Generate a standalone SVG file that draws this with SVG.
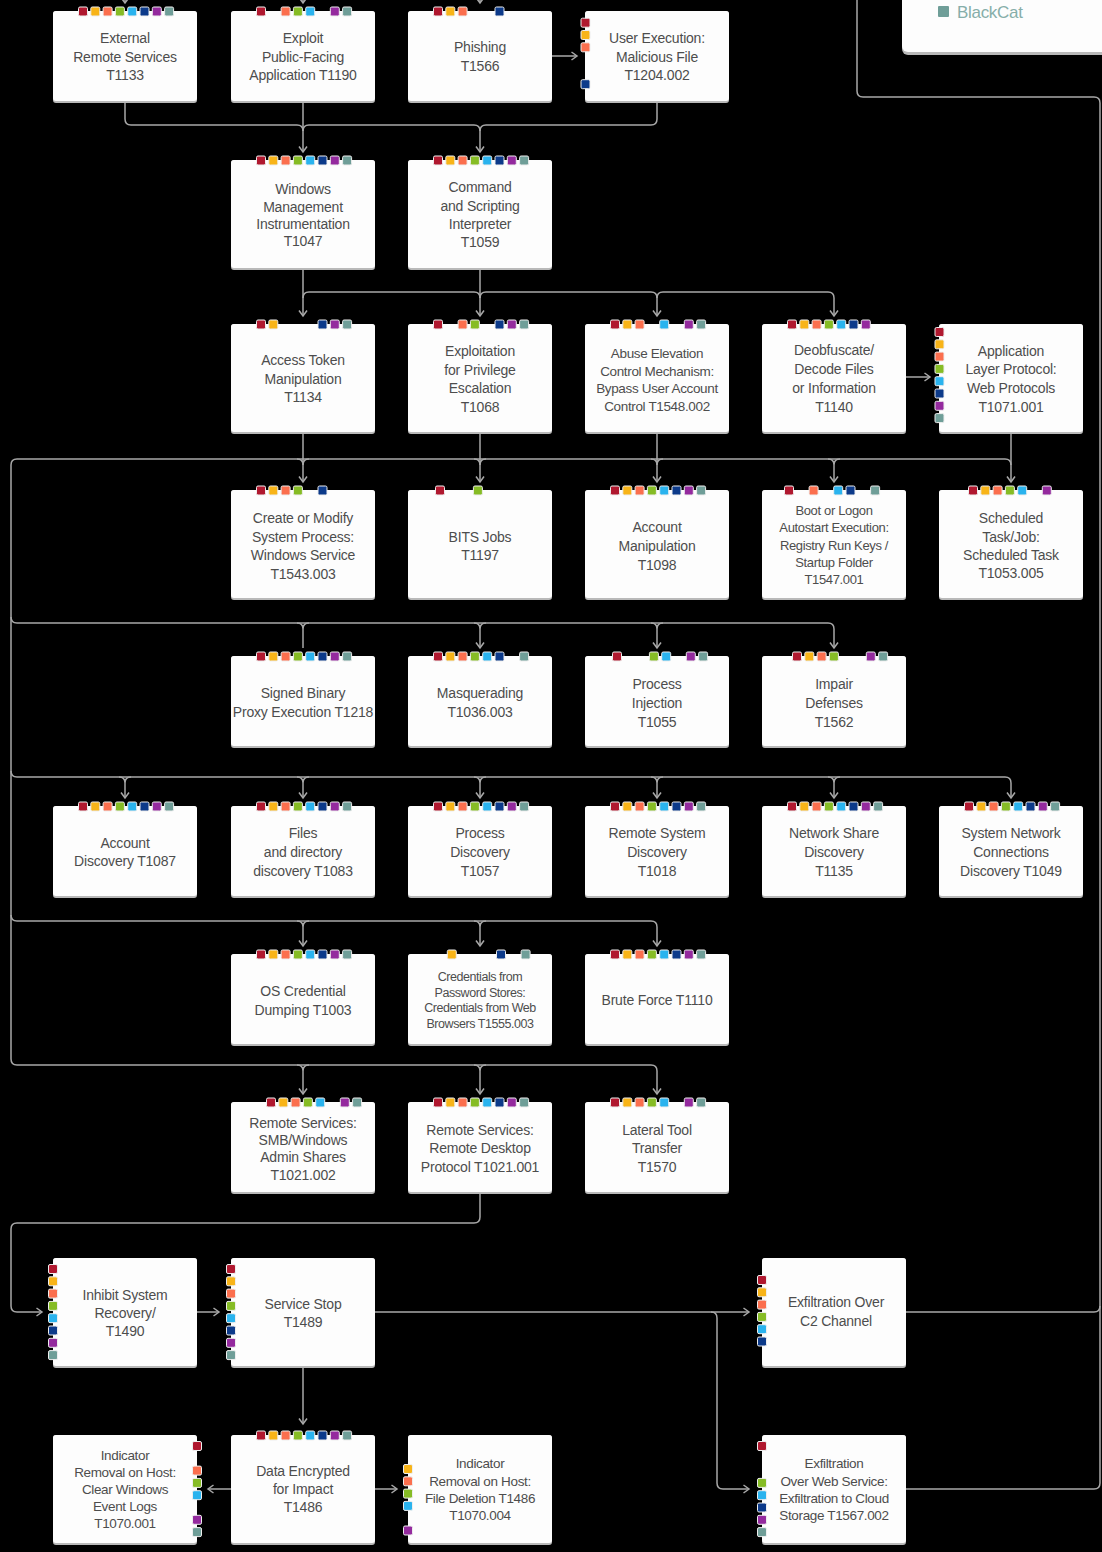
<svg xmlns="http://www.w3.org/2000/svg" xmlns:xlink="http://www.w3.org/1999/xlink" width="1102" height="1552" viewBox="0 0 1102 1552">
<style>
.box{fill:#fdfdfd}
.sh{fill:#b9b9b9}
.t{font-family:"Liberation Sans",Arial,sans-serif;font-size:14px;fill:#4d4d4d;text-anchor:middle;letter-spacing:-0.2px}
.m{font-size:13.5px;letter-spacing:-0.35px}
.s{font-size:13px;letter-spacing:-0.35px}
.xs{font-size:12.5px;letter-spacing:-0.45px}
.sq{stroke:#eeeeee;stroke-width:1}
.c path{fill:none;stroke:#a8a8a8;stroke-width:1.5}
.a{marker-end:url(#ah)}
</style>
<defs>
<marker id="ah" viewBox="0 0 10 10" refX="8" refY="5" markerWidth="10" markerHeight="10" markerUnits="userSpaceOnUse" orient="auto"><path d="M2.5,1 L8,5 L2.5,9" fill="none" stroke="#a8a8a8" stroke-width="1.5"/></marker>
<rect id="s0" class="sq" width="9" height="9" rx="1.5" fill="#b0182f"/>
<rect id="s1" class="sq" width="9" height="9" rx="1.5" fill="#f8b418"/>
<rect id="s2" class="sq" width="9" height="9" rx="1.5" fill="#fb6f4e"/>
<rect id="s3" class="sq" width="9" height="9" rx="1.5" fill="#86bc25"/>
<rect id="s4" class="sq" width="9" height="9" rx="1.5" fill="#2ab3ee"/>
<rect id="s5" class="sq" width="9" height="9" rx="1.5" fill="#0c3a8a"/>
<rect id="s6" class="sq" width="9" height="9" rx="1.5" fill="#942a9e"/>
<rect id="s7" class="sq" width="9" height="9" rx="1.5" fill="#6f9e98"/>
<g id="all8"><use href="#s0" x="0"/><use href="#s1" x="12.3"/><use href="#s2" x="24.6"/><use href="#s3" x="36.9"/><use href="#s4" x="49.2"/><use href="#s5" x="61.5"/><use href="#s6" x="73.8"/><use href="#s7" x="86.1"/></g>
<g id="all8v"><use href="#s0" y="0"/><use href="#s1" y="12.3"/><use href="#s2" y="24.6"/><use href="#s3" y="36.9"/><use href="#s4" y="49.2"/><use href="#s5" y="61.5"/><use href="#s6" y="73.8"/><use href="#s7" y="86.1"/></g>
</defs>
<rect width="1102" height="1552" fill="#000"/>

<g id="connectors" class="c">
<path class="a" d="M125,-14 V3"/>
<path class="a" d="M303,-14 V3"/>
<path class="a" d="M480,-14 V3"/>
<path d="M125,101 V119 Q125,125 131,125 H297 Q303,125 303,131"/>
<path class="a" d="M303,101 V152"/>
<path class="a" d="M657,101 V119 Q657,125 651,125 H486 Q480,125 480,131 V152"/>
<path d="M303,131 Q303,125 309,125 H474 Q480,125 480,131"/>
<path class="a" d="M552,56 H577"/>
<path class="a" d="M303,268 V316"/>
<path class="a" d="M480,268 V316"/>
<path d="M303,298 Q303,292 309,292 H474 Q480,292 480,298"/>
<path class="a" d="M480,298 Q480,292 486,292 H651 Q657,292 657,298 V316"/>
<path class="a" d="M657,298 Q657,292 663,292 H828 Q834,292 834,298 V316"/>
<path class="a" d="M906,377 H930"/>
<path d="M303,459 H17 Q11,459 11,465 V1059 Q11,1065 17,1065 H303"/>
<path d="M303,459 H1005 Q1011,459 1011,465"/>
<path class="a" d="M1011,432 V482"/>
<path class="a" d="M303,432 V482"/>
<path class="a" d="M480,432 V482"/>
<path class="a" d="M657,432 V482"/>
<path class="a" d="M834,465 V482"/>
<path d="M297,459 Q303,459 303,465 M309,459 Q303,459 303,465 M474,459 Q480,459 480,465 M486,459 Q480,459 480,465 M651,459 Q657,459 657,465 M663,459 Q657,459 657,465 M828,459 Q834,459 834,465 M840,459 Q834,459 834,465"/>
<path class="a" d="M11,617 Q11,623 17,623 H828 Q834,623 834,629 V648"/>
<path d="M303,629 V648"/>
<path class="a" d="M480,629 V648"/>
<path class="a" d="M657,629 V648"/>
<path d="M297,623 Q303,623 303,629 M309,623 Q303,623 303,629 M474,623 Q480,623 480,629 M486,623 Q480,623 480,629 M651,623 Q657,623 657,629 M663,623 Q657,623 657,629"/>
<path class="a" d="M11,771 Q11,777 17,777 H1005 Q1011,777 1011,783 V798"/>
<path class="a" d="M125,783 V798"/>
<path class="a" d="M303,783 V798"/>
<path class="a" d="M480,783 V798"/>
<path class="a" d="M657,783 V798"/>
<path class="a" d="M834,783 V798"/>
<path d="M119,777 Q125,777 125,783 M131,777 Q125,777 125,783 M297,777 Q303,777 303,783 M309,777 Q303,777 303,783 M474,777 Q480,777 480,783 M486,777 Q480,777 480,783 M651,777 Q657,777 657,783 M663,777 Q657,777 657,783 M828,777 Q834,777 834,783 M840,777 Q834,777 834,783"/>
<path class="a" d="M11,915 Q11,921 17,921 H651 Q657,921 657,927 V946"/>
<path class="a" d="M303,927 V946"/>
<path class="a" d="M480,927 V946"/>
<path d="M297,921 Q303,921 303,927 M309,921 Q303,921 303,927 M474,921 Q480,921 480,927 M486,921 Q480,921 480,927"/>
<path class="a" d="M303,1065 H651 Q657,1065 657,1071 V1094"/>
<path class="a" d="M303,1071 V1094"/>
<path class="a" d="M480,1071 V1094"/>
<path d="M297,1065 Q303,1065 303,1071 M309,1065 Q303,1065 303,1071 M474,1065 Q480,1065 480,1071 M486,1065 Q480,1065 480,1071"/>
<path class="a" d="M480,1193 V1217 Q480,1223 474,1223 H17 Q11,1223 11,1229 V1306 Q11,1312 17,1312 H42"/>
<path class="a" d="M197,1312 H219"/>
<path class="a" d="M375,1312 H749"/>
<path class="a" d="M711,1312 Q717,1312 717,1318 V1483 Q717,1489 723,1489 H749"/>
<path class="a" d="M303,1367 V1424"/>
<path class="a" d="M231,1489 H208"/>
<path class="a" d="M375,1489 H397"/>
<path d="M906,1312 H1094 Q1100,1312 1100,1306 V103 Q1100,97 1094,97 H863 Q857,97 857,91 V-5"/>
<path d="M906,1489 H1094 Q1100,1489 1100,1483 V1306"/>
</g>

<g id="legend">
<rect class="sh" x="902" y="-20" width="215" height="75" rx="6"/>
<rect class="box" x="902" y="-20" width="215" height="72" rx="6"/>
<rect x="938" y="6" width="11" height="11" rx="1" fill="#6f9e98"/>
<text x="957" y="18" font-family="Liberation Sans,Arial,sans-serif" font-size="17" fill="#86aea9" letter-spacing="-0.3">BlackCat</text>
</g>

<g id="n1"><rect class="sh" x="53" y="11" width="144" height="92" rx="3"/><rect class="box" x="53" y="11" width="144" height="90" rx="3"/>
<use href="#all8" x="78.5" y="7"/>
<text class="t"><tspan x="125" y="43">External</tspan><tspan x="125" y="62">Remote Services</tspan><tspan x="125" y="80">T1133</tspan></text></g>

<g id="n2"><rect class="sh" x="231" y="11" width="144" height="92" rx="3"/><rect class="box" x="231" y="11" width="144" height="90" rx="3"/>
<use href="#s0" x="256.5" y="7"/><use href="#s2" x="281.1" y="7"/><use href="#s3" x="293.4" y="7"/><use href="#s4" x="305.7" y="7"/><use href="#s6" x="330.3" y="7"/><use href="#s7" x="342.6" y="7"/>
<text class="t"><tspan x="303" y="43">Exploit</tspan><tspan x="303" y="62">Public-Facing</tspan><tspan x="303" y="80">Application T1190</tspan></text></g>

<g id="n3"><rect class="sh" x="408" y="11" width="144" height="92" rx="3"/><rect class="box" x="408" y="11" width="144" height="90" rx="3"/>
<use href="#s0" x="433.5" y="7"/><use href="#s1" x="445.8" y="7"/><use href="#s2" x="458.1" y="7"/><use href="#s5" x="495" y="7"/>
<text class="t"><tspan x="480" y="52">Phishing</tspan><tspan x="480" y="71">T1566</tspan></text></g>

<g id="n4"><rect class="sh" x="585" y="11" width="144" height="92" rx="3"/><rect class="box" x="585" y="11" width="144" height="90" rx="3"/>
<use href="#s0" x="581" y="18.2"/><use href="#s1" x="581" y="30.5"/><use href="#s2" x="581" y="42.8"/><use href="#s5" x="581" y="79.7"/>
<text class="t"><tspan x="657" y="43">User Execution:</tspan><tspan x="657" y="62">Malicious File</tspan><tspan x="657" y="80">T1204.002</tspan></text></g>

<g id="n5"><rect class="sh" x="231" y="160" width="144" height="110" rx="3"/><rect class="box" x="231" y="160" width="144" height="108" rx="3"/>
<use href="#all8" x="256.5" y="156"/>
<text class="t"><tspan x="303" y="194">Windows</tspan><tspan x="303" y="211.7">Management</tspan><tspan x="303" y="229">Instrumentation</tspan><tspan x="303" y="246">T1047</tspan></text></g>

<g id="n6"><rect class="sh" x="408" y="160" width="144" height="110" rx="3"/><rect class="box" x="408" y="160" width="144" height="108" rx="3"/>
<use href="#all8" x="433.5" y="156"/>
<text class="t"><tspan x="480" y="191.7">Command</tspan><tspan x="480" y="211">and Scripting</tspan><tspan x="480" y="229">Interpreter</tspan><tspan x="480" y="247">T1059</tspan></text></g>

<g id="n7"><rect class="sh" x="231" y="324" width="144" height="110" rx="3"/><rect class="box" x="231" y="324" width="144" height="108" rx="3"/>
<use href="#s0" x="256.5" y="320"/><use href="#s1" x="268.8" y="320"/><use href="#s5" x="318" y="320"/><use href="#s6" x="330.3" y="320"/><use href="#s7" x="342.6" y="320"/>
<text class="t"><tspan x="303" y="365">Access Token</tspan><tspan x="303" y="383.7">Manipulation</tspan><tspan x="303" y="402">T1134</tspan></text></g>

<g id="n8"><rect class="sh" x="408" y="324" width="144" height="110" rx="3"/><rect class="box" x="408" y="324" width="144" height="108" rx="3"/>
<use href="#s0" x="433.5" y="320"/><use href="#s2" x="458.1" y="320"/><use href="#s3" x="470.4" y="320"/><use href="#s5" x="495" y="320"/><use href="#s6" x="507.3" y="320"/><use href="#s7" x="519.6" y="320"/>
<text class="t"><tspan x="480" y="356">Exploitation</tspan><tspan x="480" y="374.7">for Privilege</tspan><tspan x="480" y="393">Escalation</tspan><tspan x="480" y="411.7">T1068</tspan></text></g>

<g id="n9"><rect class="sh" x="585" y="324" width="144" height="110" rx="3"/><rect class="box" x="585" y="324" width="144" height="108" rx="3"/>
<use href="#s0" x="610.5" y="320"/><use href="#s1" x="622.8" y="320"/><use href="#s2" x="635.1" y="320"/><use href="#s4" x="659.7" y="320"/><use href="#s6" x="684.3" y="320"/><use href="#s7" x="696.6" y="320"/>
<text class="t m"><tspan x="657" y="357.5">Abuse Elevation</tspan><tspan x="657" y="375.5">Control Mechanism:</tspan><tspan x="657" y="393">Bypass User Account</tspan><tspan x="657" y="411">Control T1548.002</tspan></text></g>

<g id="n10"><rect class="sh" x="762" y="324" width="144" height="110" rx="3"/><rect class="box" x="762" y="324" width="144" height="108" rx="3"/>
<use href="#s0" x="787.5" y="320"/><use href="#s1" x="799.8" y="320"/><use href="#s2" x="812.1" y="320"/><use href="#s3" x="824.4" y="320"/><use href="#s4" x="836.7" y="320"/><use href="#s5" x="849" y="320"/><use href="#s6" x="861.3" y="320"/>
<text class="t"><tspan x="834" y="355">Deobfuscate/</tspan><tspan x="834" y="374">Decode Files</tspan><tspan x="834" y="393">or Information</tspan><tspan x="834" y="411.7">T1140</tspan></text></g>

<g id="n11"><rect class="sh" x="939" y="324" width="144" height="110" rx="3"/><rect class="box" x="939" y="324" width="144" height="108" rx="3"/>
<use href="#all8v" x="935" y="327.5"/>
<text class="t"><tspan x="1011" y="355.7">Application</tspan><tspan x="1011" y="374">Layer Protocol:</tspan><tspan x="1011" y="393">Web Protocols</tspan><tspan x="1011" y="411.7">T1071.001</tspan></text></g>

<g id="n12"><rect class="sh" x="231" y="490" width="144" height="110" rx="3"/><rect class="box" x="231" y="490" width="144" height="108" rx="3"/>
<use href="#s0" x="256.5" y="486"/><use href="#s1" x="268.8" y="486"/><use href="#s2" x="281.1" y="486"/><use href="#s3" x="293.4" y="486"/><use href="#s5" x="318" y="486"/>
<text class="t"><tspan x="303" y="523">Create or Modify</tspan><tspan x="303" y="541.7">System Process:</tspan><tspan x="303" y="560">Windows Service</tspan><tspan x="303" y="579">T1543.003</tspan></text></g>

<g id="n13"><rect class="sh" x="408" y="490" width="144" height="110" rx="3"/><rect class="box" x="408" y="490" width="144" height="108" rx="3"/>
<use href="#s0" x="435.5" y="486"/><use href="#s3" x="473.4" y="486"/>
<text class="t"><tspan x="480" y="541.7">BITS Jobs</tspan><tspan x="480" y="560">T1197</tspan></text></g>

<g id="n14"><rect class="sh" x="585" y="490" width="144" height="110" rx="3"/><rect class="box" x="585" y="490" width="144" height="108" rx="3"/>
<use href="#all8" x="610.5" y="486"/>
<text class="t"><tspan x="657" y="532">Account</tspan><tspan x="657" y="551">Manipulation</tspan><tspan x="657" y="570">T1098</tspan></text></g>

<g id="n15"><rect class="sh" x="762" y="490" width="144" height="110" rx="3"/><rect class="box" x="762" y="490" width="144" height="108" rx="3"/>
<use href="#s0" x="784.5" y="486"/><use href="#s2" x="809.1" y="486"/><use href="#s4" x="833.7" y="486"/><use href="#s5" x="846" y="486"/><use href="#s7" x="870.6" y="486"/>
<text class="t s"><tspan x="834" y="515.3">Boot or Logon</tspan><tspan x="834" y="532">Autostart Execution:</tspan><tspan x="834" y="549.5">Registry Run Keys /</tspan><tspan x="834" y="567">Startup Folder</tspan><tspan x="834" y="583.5">T1547.001</tspan></text></g>

<g id="n16"><rect class="sh" x="939" y="490" width="144" height="110" rx="3"/><rect class="box" x="939" y="490" width="144" height="108" rx="3"/>
<use href="#s0" x="968.5" y="486"/><use href="#s1" x="980.8" y="486"/><use href="#s2" x="993.1" y="486"/><use href="#s3" x="1005.4" y="486"/><use href="#s4" x="1017.7" y="486"/><use href="#s6" x="1042.3" y="486"/>
<text class="t"><tspan x="1011" y="523">Scheduled</tspan><tspan x="1011" y="541.7">Task/Job:</tspan><tspan x="1011" y="560">Scheduled Task</tspan><tspan x="1011" y="578">T1053.005</tspan></text></g>

<g id="n17"><rect class="sh" x="231" y="656" width="144" height="92" rx="3"/><rect class="box" x="231" y="656" width="144" height="90" rx="3"/>
<use href="#all8" x="256.5" y="652"/>
<text class="t"><tspan x="303" y="697.7">Signed Binary</tspan><tspan x="303" y="716.7">Proxy Execution T1218</tspan></text></g>

<g id="n18"><rect class="sh" x="408" y="656" width="144" height="92" rx="3"/><rect class="box" x="408" y="656" width="144" height="90" rx="3"/>
<use href="#s0" x="433.5" y="652"/><use href="#s1" x="445.8" y="652"/><use href="#s2" x="458.1" y="652"/><use href="#s3" x="470.4" y="652"/><use href="#s4" x="482.7" y="652"/><use href="#s5" x="495" y="652"/><use href="#s7" x="519.6" y="652"/>
<text class="t"><tspan x="480" y="697.7">Masquerading</tspan><tspan x="480" y="716.7">T1036.003</tspan></text></g>

<g id="n19"><rect class="sh" x="585" y="656" width="144" height="92" rx="3"/><rect class="box" x="585" y="656" width="144" height="90" rx="3"/>
<use href="#s0" x="612.5" y="652"/><use href="#s3" x="649.4" y="652"/><use href="#s4" x="661.7" y="652"/><use href="#s6" x="686.3" y="652"/><use href="#s7" x="698.6" y="652"/>
<text class="t"><tspan x="657" y="689">Process</tspan><tspan x="657" y="708">Injection</tspan><tspan x="657" y="726.7">T1055</tspan></text></g>

<g id="n20"><rect class="sh" x="762" y="656" width="144" height="92" rx="3"/><rect class="box" x="762" y="656" width="144" height="90" rx="3"/>
<use href="#s0" x="792.5" y="652"/><use href="#s1" x="804.8" y="652"/><use href="#s2" x="817.1" y="652"/><use href="#s3" x="829.4" y="652"/><use href="#s6" x="866.3" y="652"/><use href="#s7" x="878.6" y="652"/>
<text class="t"><tspan x="834" y="689">Impair</tspan><tspan x="834" y="708">Defenses</tspan><tspan x="834" y="726.7">T1562</tspan></text></g>

<g id="n21"><rect class="sh" x="53" y="806" width="144" height="92" rx="3"/><rect class="box" x="53" y="806" width="144" height="90" rx="3"/>
<use href="#all8" x="78.5" y="802"/>
<text class="t"><tspan x="125" y="847.7">Account</tspan><tspan x="125" y="865.7">Discovery T1087</tspan></text></g>

<g id="n22"><rect class="sh" x="231" y="806" width="144" height="92" rx="3"/><rect class="box" x="231" y="806" width="144" height="90" rx="3"/>
<use href="#all8" x="256.5" y="802"/>
<text class="t"><tspan x="303" y="838">Files</tspan><tspan x="303" y="857">and directory</tspan><tspan x="303" y="876">discovery T1083</tspan></text></g>

<g id="n23"><rect class="sh" x="408" y="806" width="144" height="92" rx="3"/><rect class="box" x="408" y="806" width="144" height="90" rx="3"/>
<use href="#all8" x="433.5" y="802"/>
<text class="t"><tspan x="480" y="838">Process</tspan><tspan x="480" y="857">Discovery</tspan><tspan x="480" y="876">T1057</tspan></text></g>

<g id="n24"><rect class="sh" x="585" y="806" width="144" height="92" rx="3"/><rect class="box" x="585" y="806" width="144" height="90" rx="3"/>
<use href="#all8" x="610.5" y="802"/>
<text class="t"><tspan x="657" y="838">Remote System</tspan><tspan x="657" y="857">Discovery</tspan><tspan x="657" y="876">T1018</tspan></text></g>

<g id="n25"><rect class="sh" x="762" y="806" width="144" height="92" rx="3"/><rect class="box" x="762" y="806" width="144" height="90" rx="3"/>
<use href="#all8" x="787.5" y="802"/>
<text class="t"><tspan x="834" y="838">Network Share</tspan><tspan x="834" y="857">Discovery</tspan><tspan x="834" y="876">T1135</tspan></text></g>

<g id="n26"><rect class="sh" x="939" y="806" width="144" height="92" rx="3"/><rect class="box" x="939" y="806" width="144" height="90" rx="3"/>
<use href="#all8" x="964.5" y="802"/>
<text class="t"><tspan x="1011" y="838">System Network</tspan><tspan x="1011" y="857">Connections</tspan><tspan x="1011" y="876">Discovery T1049</tspan></text></g>

<g id="n27"><rect class="sh" x="231" y="954" width="144" height="92" rx="3"/><rect class="box" x="231" y="954" width="144" height="90" rx="3"/>
<use href="#all8" x="256.5" y="950"/>
<text class="t"><tspan x="303" y="995.7">OS Credential</tspan><tspan x="303" y="1015">Dumping T1003</tspan></text></g>

<g id="n28"><rect class="sh" x="408" y="954" width="144" height="92" rx="3"/><rect class="box" x="408" y="954" width="144" height="90" rx="3"/>
<use href="#s1" x="447.3" y="950"/><use href="#s5" x="496.5" y="950"/><use href="#s7" x="521.1" y="950"/>
<text class="t xs"><tspan x="480" y="981">Credentials from</tspan><tspan x="480" y="996.5">Password Stores:</tspan><tspan x="480" y="1012">Credentials from Web</tspan><tspan x="480" y="1028">Browsers T1555.003</tspan></text></g>

<g id="n29"><rect class="sh" x="585" y="954" width="144" height="92" rx="3"/><rect class="box" x="585" y="954" width="144" height="90" rx="3"/>
<use href="#all8" x="610.5" y="950"/>
<text class="t"><tspan x="657" y="1005">Brute Force T1110</tspan></text></g>

<g id="n30"><rect class="sh" x="231" y="1102" width="144" height="92" rx="3"/><rect class="box" x="231" y="1102" width="144" height="90" rx="3"/>
<use href="#s0" x="266.5" y="1098"/><use href="#s1" x="278.8" y="1098"/><use href="#s2" x="291.1" y="1098"/><use href="#s3" x="303.4" y="1098"/><use href="#s4" x="315.7" y="1098"/><use href="#s6" x="340.3" y="1098"/><use href="#s7" x="352.6" y="1098"/>
<text class="t"><tspan x="303" y="1127.7">Remote Services:</tspan><tspan x="303" y="1145">SMB/Windows</tspan><tspan x="303" y="1162">Admin Shares</tspan><tspan x="303" y="1180">T1021.002</tspan></text></g>

<g id="n31"><rect class="sh" x="408" y="1102" width="144" height="92" rx="3"/><rect class="box" x="408" y="1102" width="144" height="90" rx="3"/>
<use href="#all8" x="433.5" y="1098"/>
<text class="t"><tspan x="480" y="1135">Remote Services:</tspan><tspan x="480" y="1153">Remote Desktop</tspan><tspan x="480" y="1171.7">Protocol T1021.001</tspan></text></g>

<g id="n32"><rect class="sh" x="585" y="1102" width="144" height="92" rx="3"/><rect class="box" x="585" y="1102" width="144" height="90" rx="3"/>
<use href="#s0" x="610.5" y="1098"/><use href="#s1" x="622.8" y="1098"/><use href="#s2" x="635.1" y="1098"/><use href="#s3" x="647.4" y="1098"/><use href="#s4" x="659.7" y="1098"/><use href="#s6" x="684.3" y="1098"/><use href="#s7" x="696.6" y="1098"/>
<text class="t"><tspan x="657" y="1135">Lateral Tool</tspan><tspan x="657" y="1153">Transfer</tspan><tspan x="657" y="1171.7">T1570</tspan></text></g>

<g id="n33"><rect class="sh" x="53" y="1258" width="144" height="110" rx="3"/><rect class="box" x="53" y="1258" width="144" height="108" rx="3"/>
<use href="#all8v" x="48.5" y="1264.5"/>
<text class="t"><tspan x="125" y="1300">Inhibit System</tspan><tspan x="125" y="1318">Recovery/</tspan><tspan x="125" y="1336">T1490</tspan></text></g>

<g id="n34"><rect class="sh" x="231" y="1258" width="144" height="110" rx="3"/><rect class="box" x="231" y="1258" width="144" height="108" rx="3"/>
<use href="#all8v" x="226.5" y="1264.5"/>
<text class="t"><tspan x="303" y="1309">Service Stop</tspan><tspan x="303" y="1327">T1489</tspan></text></g>

<g id="n35"><rect class="sh" x="762" y="1258" width="144" height="110" rx="3"/><rect class="box" x="762" y="1258" width="144" height="108" rx="3"/>
<use href="#s0" x="757.5" y="1275.5"/><use href="#s1" x="757.5" y="1287.8"/><use href="#s2" x="757.5" y="1300.1"/><use href="#s3" x="757.5" y="1312.4"/><use href="#s4" x="757.5" y="1324.7"/><use href="#s5" x="757.5" y="1337"/>
<text class="t"><tspan x="836" y="1306.7">Exfiltration Over</tspan><tspan x="836" y="1325.7">C2 Channel</tspan></text></g>

<g id="n36"><rect class="sh" x="53" y="1435" width="144" height="110" rx="3"/><rect class="box" x="53" y="1435" width="144" height="108" rx="3"/>
<use href="#s0" x="192.5" y="1441.5"/><use href="#s2" x="192.5" y="1466.1"/><use href="#s3" x="192.5" y="1478.4"/><use href="#s4" x="192.5" y="1490.7"/><use href="#s6" x="192.5" y="1515.3"/><use href="#s7" x="192.5" y="1527.6"/>
<text class="t m"><tspan x="125" y="1459.6">Indicator</tspan><tspan x="125" y="1476.6">Removal on Host:</tspan><tspan x="125" y="1493.6">Clear Windows</tspan><tspan x="125" y="1511">Event Logs</tspan><tspan x="125" y="1527.6">T1070.001</tspan></text></g>

<g id="n37"><rect class="sh" x="231" y="1435" width="144" height="110" rx="3"/><rect class="box" x="231" y="1435" width="144" height="108" rx="3"/>
<use href="#all8" x="256.5" y="1431"/>
<text class="t"><tspan x="303" y="1475.7">Data Encrypted</tspan><tspan x="303" y="1493.7">for Impact</tspan><tspan x="303" y="1512">T1486</tspan></text></g>

<g id="n38"><rect class="sh" x="408" y="1435" width="144" height="110" rx="3"/><rect class="box" x="408" y="1435" width="144" height="108" rx="3"/>
<use href="#s1" x="403.5" y="1464.5"/><use href="#s2" x="403.5" y="1476.8"/><use href="#s3" x="403.5" y="1489.1"/><use href="#s4" x="403.5" y="1501.4"/><use href="#s6" x="403.5" y="1526"/>
<text class="t m"><tspan x="480" y="1467.6">Indicator</tspan><tspan x="480" y="1485.6">Removal on Host:</tspan><tspan x="480" y="1502.6">File Deletion T1486</tspan><tspan x="480" y="1519.6">T1070.004</tspan></text></g>

<g id="n39"><rect class="sh" x="762" y="1435" width="144" height="110" rx="3"/><rect class="box" x="762" y="1435" width="144" height="108" rx="3"/>
<use href="#s0" x="757.5" y="1441.5"/><use href="#s3" x="757.5" y="1478.4"/><use href="#s4" x="757.5" y="1490.7"/><use href="#s5" x="757.5" y="1503"/><use href="#s6" x="757.5" y="1515.3"/><use href="#s7" x="757.5" y="1527.6"/>
<text class="t m"><tspan x="834" y="1467.6">Exfiltration</tspan><tspan x="834" y="1485.6">Over Web Service:</tspan><tspan x="834" y="1502.6">Exfiltration to Cloud</tspan><tspan x="834" y="1519.6">Storage T1567.002</tspan></text></g>
</svg>
